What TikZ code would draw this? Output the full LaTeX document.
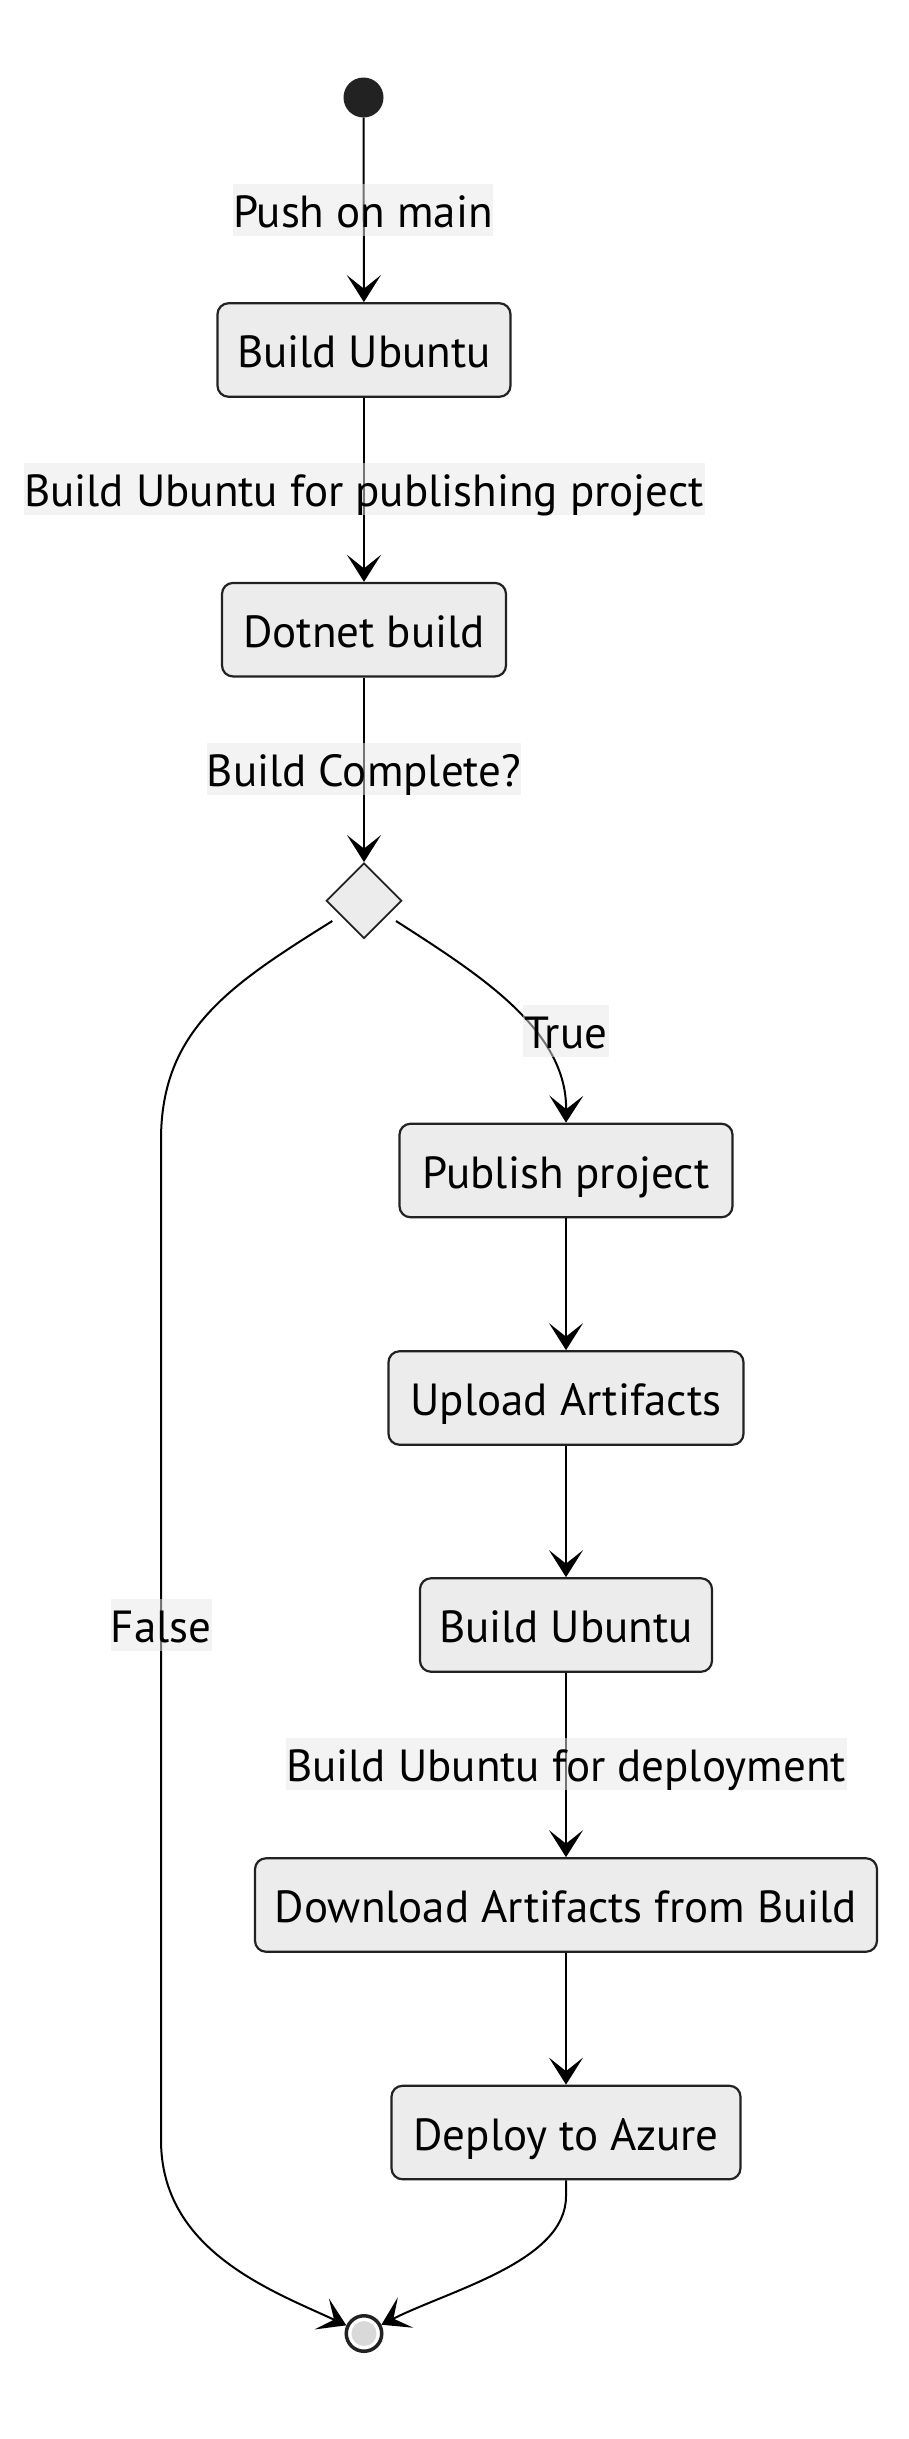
\documentclass[tikz,border=0pt]{standalone}
\usepackage{fontspec}
\setmainfont{PT Sans}
\usetikzlibrary{arrows.meta,shapes.geometric,calc}
\definecolor{nodefill}{HTML}{ECECEC}
\definecolor{strokec}{HTML}{222222}
\definecolor{lblbg}{HTML}{E8E8E8}
\definecolor{endgray}{HTML}{D9D9D9}
\begin{document}
\begin{tikzpicture}[x=1pt,y=-1pt,
  txt/.style={font=\fontsize{45}{52}\selectfont, text height=40pt, text depth=5pt},
  statebox/.style={txt, draw=strokec, fill=nodefill, line width=2.2pt, rounded corners=11pt, minimum height=93.5pt, inner sep=0pt},
  lbl/.style={txt, fill=lblbg, fill opacity=0.5, text opacity=1, inner sep=0pt, minimum height=52pt},
  conn/.style={draw=black, line width=2pt, -{Stealth[length=27pt,width=34pt,inset=13.5pt]}},
]
\useasboundingbox (0,0) rectangle (909,2439);
\fill[white] (0,0) rectangle (909,2439);

% nodes
\node[circle, fill=strokec, minimum size=40pt, inner sep=0pt] (start) at (363.5,97.5) {};
\node[statebox, minimum width=293pt] (b1) at (364,350) {Build Ubuntu};
\node[statebox, minimum width=284pt] (b2) at (364,629.7) {Dotnet build};
\node[diamond, draw=strokec, fill=nodefill, line width=1.7pt, minimum width=75.5pt, minimum height=75.5pt, inner sep=0pt] (dia) at (364,900.7) {};
\node[statebox, minimum width=333pt] (pub) at (566,1170.5) {Publish project};
\node[statebox, minimum width=355pt] (upl) at (566,1398) {Upload Artifacts};
\node[statebox, minimum width=292pt] (b3) at (566,1625) {Build Ubuntu};
\node[statebox, minimum width=622pt] (dl) at (566,1905) {Download Artifacts from Build};
\node[statebox, minimum width=349pt] (az) at (566,2132.5) {Deploy to Azure};
\node[circle, draw=strokec, line width=3.5pt, fill=white, minimum size=35.5pt, inner sep=0pt] (fin) at (364,2333.5) {};
\fill[endgray] (fin.center) circle (12.5);

\coordinate (fl) at (332.3,921);
\coordinate (fr) at (396,921);

% connectors
\draw[conn] (start) -- (b1);
\draw[conn] (b1) -- (b2);
\draw[conn] (b2) -- (dia);
\draw[conn] (fr) .. controls (480,975) and (567,1030) .. (pub.north);
\draw[conn] (pub) -- (upl);
\draw[conn] (upl) -- (b3);
\draw[conn] (b3) -- (dl);
\draw[conn] (dl) -- (az);
\draw[conn] (fl) .. controls (230,985) and (161,1030) .. (161,1140) -- (161,2140) .. controls (161,2250) and (270,2290) .. (fin);
\draw[conn] (az.south) -- ++(0,16) .. controls +(0,65) and (450,2290) .. (fin);

% labels
\node[lbl, minimum width=257.5pt] (l1) at (363,209.6) {Push on main};
\node[lbl, minimum width=681pt] (l2) at (364,489) {Build Ubuntu for publishing project};
\node[lbl, minimum width=313.5pt] (l3) at (364,769) {Build Complete?};
\node[lbl, minimum width=86pt] (l4) at (566,1031) {True};
\node[lbl, minimum width=101pt] (l5) at (161,1625) {False};
\node[lbl, minimum width=561pt] (l6) at (566,1764) {Build Ubuntu for deployment};
\end{tikzpicture}
\end{document}
